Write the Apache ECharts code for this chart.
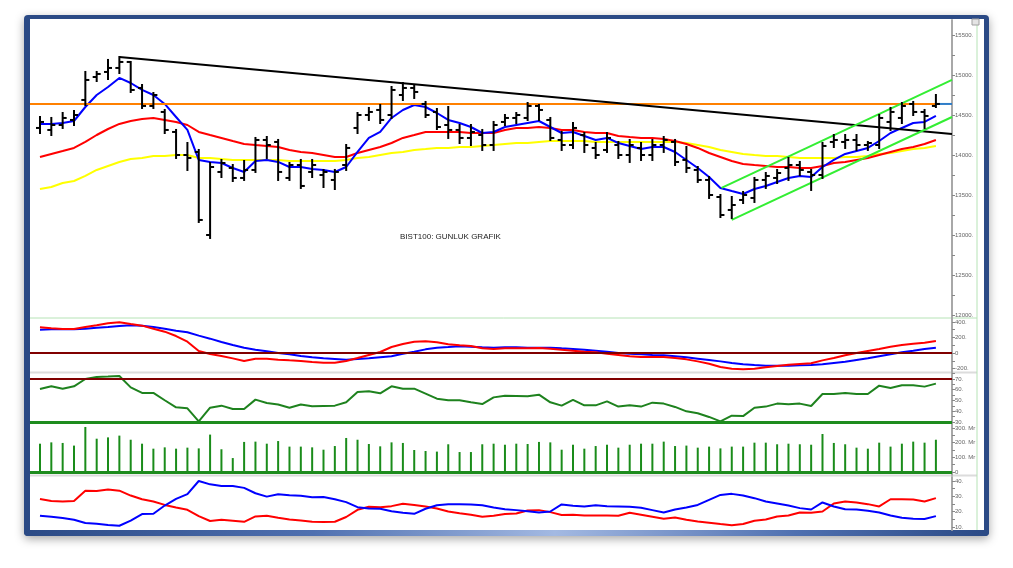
<!DOCTYPE html>
<html>
<head>
<meta charset="utf-8">
<script src="https://cdn.jsdelivr.net/npm/echarts@6/dist/echarts.min.js"></script>
<style>
    html, body { margin: 0; padding: 0; background: #fff; }
    #frame { position: absolute; left: 24px; top: 15px; width: 965px; height: 521px; background: #2b4a85; border-radius: 4px; box-shadow: 0 3px 10px rgba(0,0,0,0.35); }
    #frameBottom { position: absolute; left: 0; right: 0; bottom: 0; height: 6px; border-radius: 0 0 4px 4px;
        background: linear-gradient(to right, #2b4a85 0%, #4f70b0 30%, #a3b9e2 55%, #4f70b0 80%, #2b4a85 100%); }
    #inner { position: absolute; left: 6px; top: 4px; right: 5px; bottom: 6px; background: #fff; }
    #chart { position: absolute; left: 0; top: 0; width: 1013px; height: 568px; }
</style>
</head>
<body>
<div id="frame"><div id="inner"></div><div id="frameBottom"></div></div>
<div id="chart"></div>
<script>
// gunluk fiyat (OHLC)
var ohlcOpen = [14338,14313,14375,14438,14688,14975,15038,15088,15163,14838,
    14613,14538,14288,14000,14038,13000,13788,13838,13713,13813,
    14188,14163,13713,13875,13788,13750,13688,13875,14338,14500,
    14563,14500,14750,14838,14638,14538,14375,14313,14213,14250,
    14125,14413,14463,14463,14613,14438,14188,14125,14250,14088,
    14063,14125,14000,14088,14000,14125,14163,13938,13813,13688,
    13475,13313,13438,13463,13688,13713,13838,13875,13788,13750,
    14163,14163,14188,14125,14125,14413,14463,14638,14538,14613];
var ohlcHigh = [14475,14463,14525,14550,15038,15038,15188,15225,15163,14875,
    14775,14563,14313,14150,14063,13900,13938,13875,13925,14213,
    14225,14188,13900,13938,13938,13813,13813,14125,14525,14588,
    14625,14850,14900,14875,14663,14575,14600,14375,14375,14313,
    14413,14500,14525,14650,14625,14463,14288,14400,14275,14150,
    14275,14163,14188,14150,14188,14225,14188,14100,13850,13725,
    13500,13475,13538,13713,13775,13813,13963,13913,13813,14150,
    14250,14250,14250,14163,14500,14588,14650,14663,14563,14750];
var ohlcLow = [14275,14250,14338,14375,14625,14925,14950,15025,14788,14588,
    14588,14275,13963,13813,13163,12963,13725,13675,13688,13788,
    13963,13688,13688,13588,13725,13600,13575,13813,14275,14438,
    14400,14463,14688,14713,14475,14325,14213,14150,14125,14063,
    14063,14375,14400,14438,14438,14188,14063,14088,14038,13963,
    14038,13963,13913,13938,13938,14038,13875,13788,13663,13463,
    13225,13213,13400,13413,13588,13650,13688,13750,13563,13713,
    14100,14088,14063,14063,14088,14313,14400,14500,14338,14600];
var ohlcClose = [14413,14375,14463,14500,14938,15013,15088,15163,14813,14613,
    14750,14313,14000,13963,13188,13850,13900,13713,13813,14188,
    14125,13788,13875,13613,13875,13788,13788,14088,14500,14538,
    14438,14813,14838,14788,14500,14350,14313,14213,14288,14125,
    14375,14463,14500,14613,14563,14213,14125,14338,14125,14000,
    14213,14000,14125,14000,14125,14188,13913,13838,13688,13500,
    13250,13375,13500,13688,13738,13775,13875,13813,13750,14113,
    14188,14188,14125,14150,14463,14538,14613,14538,14488,14638];

// hareketli ortalamalar
var maFast = [14388,14388,14400,14425,14600,14750,14850,14963,14900,14813,
    14750,14638,14475,14313,13938,13913,13900,13838,13788,13925,
    13938,13913,13850,13850,13825,13813,13788,13850,14038,14213,
    14288,14463,14563,14625,14600,14525,14438,14400,14350,14275,
    14288,14350,14375,14400,14425,14350,14275,14288,14238,14188,
    14213,14150,14113,14075,14100,14100,14038,13938,13838,13725,
    13588,13550,13513,13575,13613,13663,13713,13738,13725,13850,
    13938,14013,14050,14088,14175,14275,14338,14400,14413,14488];
var maMid = [13975,14013,14050,14088,14163,14250,14325,14388,14425,14450,
    14463,14438,14413,14375,14288,14250,14213,14175,14138,14125,
    14113,14100,14063,14038,14025,14000,13975,13975,14025,14063,
    14100,14150,14213,14250,14288,14288,14288,14288,14275,14275,
    14275,14313,14338,14338,14350,14338,14313,14313,14288,14275,
    14275,14238,14225,14213,14213,14200,14175,14138,14088,14025,
    13975,13925,13888,13875,13863,13850,13850,13838,13838,13863,
    13900,13913,13938,13963,14000,14038,14075,14100,14138,14188];
var maSlow = [13575,13600,13650,13675,13738,13813,13863,13913,13950,13963,
    13988,13988,14000,14000,13963,13963,13950,13938,13938,13938,
    13938,13938,13925,13925,13925,13925,13925,13938,13963,13975,
    14000,14025,14038,14063,14075,14088,14088,14100,14100,14113,
    14125,14138,14150,14150,14163,14175,14175,14175,14175,14163,
    14163,14163,14163,14163,14163,14163,14163,14150,14125,14100,
    14063,14038,14013,14000,13988,13988,13975,13963,13963,13963,
    13963,13975,13975,13988,14013,14025,14050,14075,14088,14113];

// trend cizgileri [bar, fiyat]
var trendBlack = [[7, 15225], [80.42, 14262]];
var levelOrange = [[-0.88, 14638], [79, 14638]];
var levelLast = [[79, 14638], [80.42, 14638]];
var channelUpper = [[60.1, 13588], [80.42, 14938]];
var channelLower = [[61, 13188], [80.42, 14475]];

// MACD
var macdLine = [331,318,310,310,335,357,383,396,374,353,
    314,275,219,146,26,-13,-39,-69,-103,-73,
    -73,-86,-95,-103,-116,-125,-125,-103,-65,-26,
    13,77,116,146,151,138,112,99,90,60,
    52,60,60,60,65,56,43,30,17,9,
    -9,-26,-43,-52,-52,-52,-65,-82,-108,-138,
    -181,-202,-211,-202,-185,-168,-151,-142,-133,-95,
    -65,-30,0,26,52,82,103,120,133,155];
var macdSignal = [301,305,310,305,314,327,335,348,357,353,
    335,314,288,267,224,185,142,103,69,43,
    22,0,-17,-39,-56,-69,-77,-86,-77,-69,
    -56,-43,-9,17,47,69,77,86,82,73,
    69,73,73,69,69,69,60,52,43,30,
    17,0,-9,-17,-26,-30,-43,-56,-73,-90,
    -108,-129,-146,-155,-163,-163,-163,-159,-155,-146,
    -129,-112,-90,-69,-43,-17,9,30,52,69];

// RSI
var rsiValues = [60.7,63.2,61.0,63.2,70.0,71.9,72.2,72.8,62.2,57.0,
    57.0,50.2,43.6,42.7,30.6,43.3,45.2,42.1,42.1,50.8,
    47.7,46.2,43.3,46.2,44.6,44.9,45.2,48.3,57.9,58.5,
    56.7,63.2,61.0,61.0,56.4,51.7,50.2,50.2,48.3,46.7,
    52.9,54.5,54.2,53.9,55.4,48.3,45.2,50.5,45.5,45.5,
    49.2,44.3,45.5,44.3,48.0,47.1,44.0,39.9,38.1,34.7,
    30.6,35.9,35.5,43.3,44.3,47.1,46.4,47.1,44.9,56.0,
    56.0,57.0,56.0,56.0,63.8,61.6,64.1,64.1,62.9,65.7];

// hacim (Mr)
var volumeValues = [193,202,198,180,307,227,236,248,220,193,
    159,168,159,166,161,255,155,95,205,207,
    193,211,173,173,168,152,177,232,220,191,
    175,202,198,150,143,139,189,136,136,189,
    193,186,193,191,205,202,152,186,159,177,
    186,166,186,193,193,207,177,180,166,173,
    161,173,173,200,200,189,193,189,186,259,
    198,189,166,159,200,173,193,207,200,220];

// DMI
var diPlus = [28.3,27.0,26.6,27.0,33.7,33.5,34.4,33.7,30.5,28.1,
    26.6,24.4,22.7,21.2,17.1,13.9,14.7,14.1,13.4,16.9,
    17.3,16.0,14.9,14.3,13.4,13.2,13.4,16.5,21.2,23.2,
    22.9,23.6,25.1,24.4,23.4,22.1,20.1,19.0,18.0,16.7,
    17.3,18.4,18.8,20.8,21.0,19.7,17.8,18.0,17.5,17.5,
    17.5,17.3,19.3,18.0,16.7,15.4,16.2,14.7,13.6,12.8,
    11.9,11.1,11.9,14.1,14.9,16.9,17.5,19.5,19.3,20.1,
    25.3,26.6,26.0,24.9,23.4,28.1,28.1,27.9,26.6,28.8];
var diMinus = [17.3,16.7,15.8,14.7,12.6,12.1,11.3,10.8,14.1,18.4,
    18.6,24.0,28.3,31.4,40.0,37.8,36.8,36.8,35.5,32.0,
    29.8,31.4,30.7,30.3,29.4,29.6,28.1,26.2,22.9,22.1,
    21.9,20.3,19.3,18.6,21.9,24.2,24.9,24.9,24.7,24.2,
    22.7,21.6,21.0,20.3,19.5,20.1,24.7,23.8,23.4,24.2,
    23.6,23.4,23.2,22.5,21.0,19.5,21.4,22.7,24.4,27.7,
    30.9,31.6,30.5,28.8,26.6,25.3,24.0,22.3,21.4,26.0,
    23.4,21.6,21.4,20.6,19.5,17.5,16.0,15.4,15.2,17.1];

// eksen etiketleri
var priceLabels = [12000,12500,13000,13500,14000,14500,15000,15500];
var priceTicks = [12000,12250,12500,12750,13000,13250,13500,13750,14000,14250,14500,14750,15000,15250,15500];
var macdLabels = [-200,0,200,400];
var macdTicks = [-200,-100,0,100,200,300,400];
var rsiLabels = [30,40,50,60,70];
var rsiTicks = [30,35,40,45,50,55,60,65,70,75];
var volLabels = [0,100,200,300];
var volTicks = [0,50,100,150,200,250,300];
var dmiLabels = [10,20,30,40];
var dmiTicks = [10,15,20,25,30,35,40];

var chart = echarts.init(document.getElementById('chart'));

function pairs(arr) {
    return arr.map(function (v, i) { return [i, v]; });
}

function renderOhlc(params, api) {
    var x = api.value(0);
    var o = api.coord([x, api.value(1)]);
    var h = api.coord([x, api.value(2)]);
    var l = api.coord([x, api.value(3)]);
    var c = api.coord([x, api.value(4)]);
    var st = { stroke: '#000', lineWidth: 2 };
    return {
        type: 'group',
        children: [
            { type: 'line', shape: { x1: h[0], y1: h[1] - 1, x2: l[0], y2: l[1] + 1 }, style: st },
            { type: 'line', shape: { x1: o[0] - 4, y1: o[1], x2: o[0], y2: o[1] }, style: st },
            { type: 'line', shape: { x1: c[0], y1: c[1], x2: c[0] + 4, y2: c[1] }, style: st }
        ]
    };
}

var ohlcData = ohlcOpen.map(function (o, i) {
    return [i, o, ohlcHigh[i], ohlcLow[i], ohlcClose[i]];
});

function xAx(idx) {
    return { type: 'value', gridIndex: idx, min: -0.88, max: 80.42, show: false };
}

function yAx(idx, min, max, labels, ticks, fmt) {
    return {
        type: 'value', gridIndex: idx, position: 'right', min: min, max: max,
        splitLine: { show: false },
        axisLine: { show: true, onZero: false, lineStyle: { color: '#a8a8a8', width: 2 } },
        axisTick: { show: true, length: 3, customValues: ticks, lineStyle: { color: '#888' } },
        axisLabel: {
            customValues: labels, fontSize: 6, color: '#666', margin: 3,
            fontFamily: 'Liberation Sans', formatter: fmt
        }
    };
}

function line(xi, data, color, width, z) {
    return {
        type: 'line', xAxisIndex: xi, yAxisIndex: xi, data: data,
        showSymbol: false, symbol: 'none', silent: true, z: z || 2,
        lineStyle: { color: color, width: width || 2 }
    };
}

function hLine(value, color, width) {
    return {
        silent: true, symbol: 'none', label: { show: false },
        lineStyle: { color: color, width: width, type: 'solid' },
        data: [{ yAxis: value }]
    };
}

var dot = function (v) { return v + '.'; };

var option = {
    animation: false,
    grid: [
        { left: 30, top: 20, width: 922, height: 298 },
        { left: 30, top: 318, width: 922, height: 54 },
        { left: 30, top: 372, width: 922, height: 53 },
        { left: 30, top: 425, width: 922, height: 50 },
        { left: 30, top: 477, width: 922, height: 53 }
    ],
    xAxis: [xAx(0), xAx(1), xAx(2), xAx(3), xAx(4)],
    yAxis: [
        yAx(0, 11962.5, 15687.5, priceLabels, priceTicks, dot),
        yAx(1, -245, 451.5, macdLabels, macdTicks, function (v) { return v === 0 ? '0' : v + '.'; }),
        yAx(2, 27.2, 76.5, rsiLabels, rsiTicks, dot),
        yAx(3, -20.5, 320.4, volLabels, volTicks, function (v) { return v === 0 ? '0' : v + '. Mr'; }),
        yAx(4, 8.04, 42.6, dmiLabels, dmiTicks, dot)
    ],
    graphic: [
        { type: 'line', shape: { x1: 30, y1: 318, x2: 977, y2: 318 }, style: { stroke: '#b6e3b6', lineWidth: 1 }, z: 0 },
        { type: 'line', shape: { x1: 30, y1: 372.5, x2: 977, y2: 372.5 }, style: { stroke: '#dcdcdc', lineWidth: 2 }, z: 0 },
        { type: 'line', shape: { x1: 30, y1: 475.5, x2: 977, y2: 475.5 }, style: { stroke: '#dcdcdc', lineWidth: 2 }, z: 0 },
        { type: 'line', shape: { x1: 977, y1: 19, x2: 977, y2: 530 }, style: { stroke: '#b6e3b6', lineWidth: 1 }, z: 0 },
        { type: 'rect', shape: { x: 972, y: 19, width: 7, height: 6 }, style: { fill: '#e4e4e4', stroke: '#a0a0a0', lineWidth: 1 }, z: 0 },
        {
            type: 'text', left: 400, top: 233,
            style: { text: 'BIST100: GUNLUK GRAFIK', fontSize: 8, fontFamily: 'Liberation Sans', fill: '#222' }
        }
    ],
    series: [
        line(0, pairs(maSlow), '#ffff00', 2),
        line(0, pairs(maMid), '#ff0000', 2),
        line(0, pairs(maFast), '#0000ff', 2),
        line(0, levelOrange, '#ff8000', 2),
        line(0, levelLast, '#2e7dc8', 2),
        line(0, trendBlack, '#000000', 2),
        line(0, channelUpper, '#33ee33', 2),
        line(0, channelLower, '#33ee33', 2),
        {
            type: 'custom', xAxisIndex: 0, yAxisIndex: 0, data: ohlcData,
            renderItem: renderOhlc, encode: { x: 0, y: [1, 2, 3, 4] }, z: 5, silent: true
        },
        Object.assign(line(1, pairs(macdSignal), '#0000ff', 2), { markLine: hLine(0, '#800000', 2) }),
        line(1, pairs(macdLine), '#ff0000', 2, 3),
        Object.assign(line(2, pairs(rsiValues), '#1e821e', 2), {
            markLine: {
                silent: true, symbol: 'none', label: { show: false },
                data: [
                    { yAxis: 70, lineStyle: { color: '#800000', width: 2, type: 'solid' } },
                    { yAxis: 30, lineStyle: { color: '#1e8c1e', width: 3, type: 'solid' } }
                ]
            }
        }),
        {
            type: 'bar', xAxisIndex: 3, yAxisIndex: 3, data: pairs(volumeValues),
            barWidth: 2, itemStyle: { color: '#1a8c1a' }, silent: true,
            markLine: hLine(0, '#1e8c1e', 3)
        },
        line(4, pairs(diPlus), '#ff0000', 2),
        line(4, pairs(diMinus), '#0000ff', 2)
    ]
};

chart.setOption(option);
</script>
</body>
</html>
